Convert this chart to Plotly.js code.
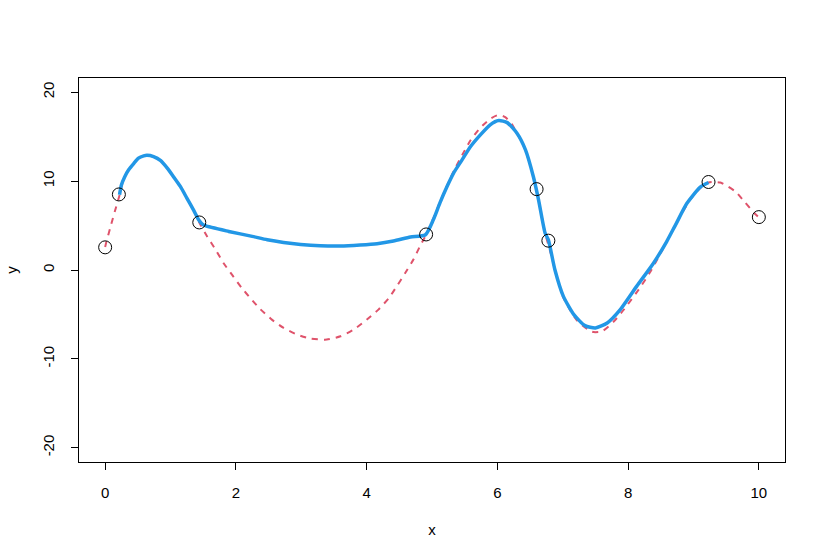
<!DOCTYPE html>
<html>
<head>
<meta charset="utf-8">
<script src="https://cdn.plot.ly/plotly-3.0.1.min.js"></script>
<style>html,body{margin:0;padding:0;background:#fff;}#chart{width:826px;height:560px;}</style>
</head>
<body>
<div id="chart"></div>
<script>
// Observed sample points
const pointX = [0, 0.21, 1.44, 4.91, 6.60, 6.78, 9.23, 10.0];
const pointY = [2.55, 8.5, 5.35, 4.0, 9.1, 3.3, 9.9, 5.95];

// True curve (red dashed)
const trueX = [0, 0.02, 0.08, 0.16, 0.22, 0.25, 0.30, 0.36, 0.44, 0.51, 0.59, 0.64, 0.74, 0.85, 0.95, 1.05, 1.15, 1.25, 1.355, 1.44,
  1.56, 1.69, 1.81, 1.94, 2.09, 2.22, 2.37, 2.55, 2.73, 2.94, 3.14, 3.39, 3.6, 3.8, 4.0, 4.18, 4.34, 4.46, 4.59, 4.72, 4.82, 4.91,
  5.02, 5.12, 5.23, 5.33, 5.46, 5.59, 5.74, 5.89, 6.02, 6.12, 6.22, 6.3, 6.43, 6.55, 6.63, 6.73, 6.83, 6.88,
  7.01, 7.22, 7.45, 7.6, 7.78, 7.93, 8.19, 8.34, 8.52, 8.64, 8.8, 8.95, 9.1, 9.23, 9.41, 9.64, 9.79, 9.94, 10.0];
const trueY = [2.6, 3.2, 4.8, 6.9, 8.4, 9.4, 10.5, 11.27, 12.0, 12.58, 12.84, 12.9, 12.76, 12.3, 11.46, 10.45, 9.4, 8.09, 6.7, 5.35,
  3.78, 2.28, 0.79, -0.53, -2.02, -3.15, -4.38, -5.58, -6.52, -7.27, -7.72, -7.83, -7.46, -6.71, -5.6, -4.46, -3.15, -1.84, -0.34, 1.24, 2.73, 3.97,
  5.8, 7.6, 9.5, 11.1, 12.9, 14.6, 16.0, 17.0, 17.45, 17.2, 16.44, 15.4, 13.5, 10.5, 7.9, 4.16, 1.53, 0.03,
  -3.1, -5.7, -6.95, -6.9, -5.8, -4.5, -1.9, -0.2, 2.2, 3.9, 6.1, 7.9, 9.2, 9.84, 9.84, 8.83, 7.6, 6.33, 5.91];

// Fitted curve (blue solid)
const fitX = [0.22, 0.25, 0.30, 0.36, 0.44, 0.51, 0.59, 0.64, 0.74, 0.85, 0.95, 1.05, 1.15, 1.25, 1.355, 1.43,
  1.48, 1.53, 1.89, 2.25, 2.48, 2.73, 2.99, 3.29, 3.6, 3.9, 4.16, 4.41, 4.67, 4.9,
  5.02, 5.12, 5.23, 5.33, 5.46, 5.59, 5.74, 5.89, 6.02, 6.15, 6.3, 6.43, 6.55, 6.63, 6.73, 6.78, 6.88,
  7.01, 7.17, 7.34, 7.5, 7.68, 7.88, 8.13, 8.39, 8.59, 8.72, 8.9, 9.1, 9.23];
const fitY = [8.46, 9.58, 10.5, 11.27, 12.0, 12.58, 12.84, 12.9, 12.76, 12.3, 11.46, 10.45, 9.4, 8.09, 6.7, 5.65,
  5.2, 4.98, 4.34, 3.78, 3.4, 3.1, 2.88, 2.73, 2.7, 2.81, 2.96, 3.26, 3.71, 3.97,
  5.65, 7.53, 9.39, 10.9, 12.39, 13.89, 15.2, 16.33, 16.81, 16.58, 15.39, 13.52, 10.52, 7.9, 4.16, 3.4, 0.03,
  -2.97, -5.02, -6.26, -6.52, -5.96, -4.46, -1.84, 0.79, 3.2, 5.0, 7.5, 9.3, 9.84];

const xTicks = [0, 2, 4, 6, 8, 10];
const yTicks = [-20, -10, 0, 10, 20];

const traces = [
  {x: trueX, y: trueY, type: 'scatter', mode: 'lines', line: {color: '#DF536B', width: 2, dash: '6px,6px', shape: 'spline', smoothing: 0.6}, hoverinfo: 'skip'},
  {x: fitX, y: fitY, type: 'scatter', mode: 'lines', line: {color: '#2297E6', width: 3.5, shape: 'spline', smoothing: 0.6}, hoverinfo: 'skip'},
  {x: pointX, y: pointY, type: 'scatter', mode: 'markers', marker: {symbol: 'circle-open', size: 13, color: '#000', line: {width: 1, color: '#000'}}}
];

const font = {family: 'Liberation Sans, Arial, sans-serif', size: 15, color: '#000'};
const layout = {
  width: 826, height: 560,
  margin: {l: 78.5, r: 41, t: 78, b: 98, pad: 0},
  paper_bgcolor: '#fff', plot_bgcolor: '#fff',
  showlegend: false,
  font: font,
  xaxis: {
    range: [-0.4, 10.4], tickvals: xTicks, ticktext: xTicks.map(String),
    ticks: 'outside', ticklen: 7, tickwidth: 1, tickcolor: '#000',
    showgrid: false, zeroline: false, showline: true, linecolor: '#000', linewidth: 1, mirror: true,
    tickfont: font, ticklabelstandoff: 10,
    title: {text: 'x', font: {family: 'Liberation Sans, Arial, sans-serif', size: 15, color: '#000'}, standoff: 24}
  },
  yaxis: {
    range: [-21.6, 21.6], tickvals: yTicks, ticktext: yTicks.map(String),
    ticks: 'outside', ticklen: 7, tickwidth: 1, tickcolor: '#000', tickangle: -90,
    showgrid: false, zeroline: false, showline: true, linecolor: '#000', linewidth: 1, mirror: true,
    tickfont: font, ticklabelstandoff: 11,
    title: {text: 'y', font: {family: 'Liberation Sans, Arial, sans-serif', size: 15, color: '#000'}, standoff: 18}
  }
};

Plotly.newPlot('chart', traces, layout, {staticPlot: true, displayModeBar: false});
</script>
</body>
</html>
